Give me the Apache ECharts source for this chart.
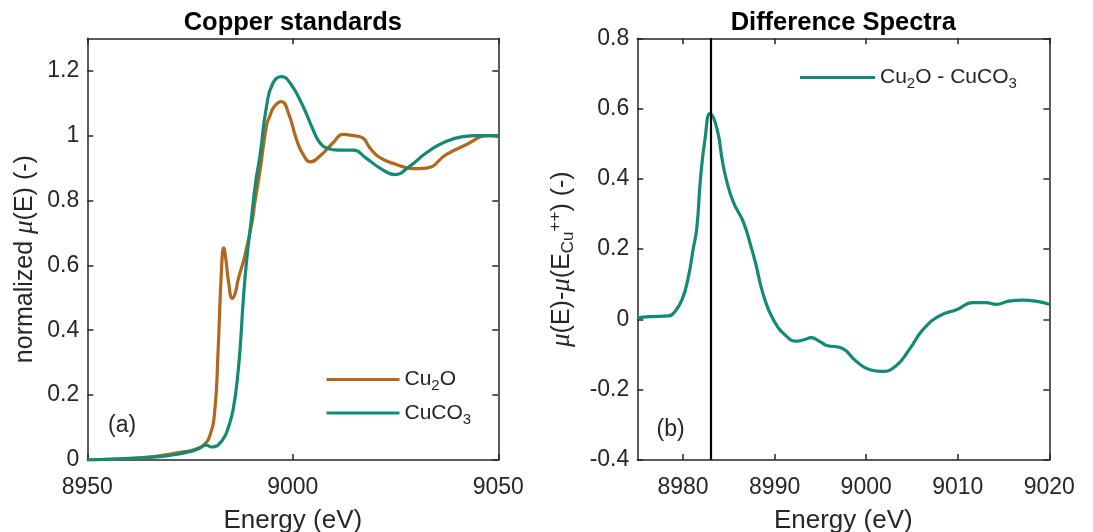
<!DOCTYPE html>
<html>
<head>
<meta charset="utf-8">
<script src="https://cdn.jsdelivr.net/npm/echarts@6/dist/echarts.min.js"></script>
<style>
html,body{margin:0;padding:0;background:#fff;}
#chart{width:1093px;height:532px;}
</style>
</head>
<body>
<div id="chart"></div>
<script>
// ---------------- data ----------------
const cu2oEnergy = [8950, 8955, 8960, 8965, 8968.6, 8972, 8975.7, 8978.2, 8979.8, 8981.0, 8981.8, 8982.65, 8983.2, 8983.7, 8984.3, 8985.3, 8986.0, 8986.7, 8988.3, 8990.2, 8990.75, 8992, 8993.6, 8994.4, 8995.5, 8997.25, 8998.9, 9000.9, 9002.5, 9004.3, 9006.6, 9009.8, 9012.2, 9014.7, 9017.0, 9018.7, 9021.2, 9025.2, 9029.3, 9032.5, 9037.4, 9041.4, 9047.9, 9050];
const cu2oValue = [0, 0.002, 0.005, 0.009, 0.015, 0.022, 0.031, 0.045, 0.075, 0.15, 0.33, 0.587, 0.654, 0.62, 0.556, 0.498, 0.515, 0.556, 0.628, 0.741, 0.793, 0.89, 1.03, 1.06, 1.09, 1.105, 1.071, 0.988, 0.942, 0.919, 0.937, 0.978, 1.004, 1.0, 0.993, 0.963, 0.932, 0.911, 0.898, 0.90, 0.942, 0.967, 1.0, 0.997];

const cuco3Energy = [8950, 8955, 8960, 8965, 8970, 8975.7, 8977.5, 8978.8, 8979.5, 8980.2, 8981.2, 8982.2, 8983.2, 8983.9, 8985.1, 8985.8, 8986.3, 8987.1, 8987.9, 8988.7, 8989.9, 8991, 8992.0, 8993.6, 8995.2, 8997.25, 8999.3, 9002.5, 9004.9, 9006.6, 9008.6, 9011, 9014.7, 9017.9, 9021.2, 9024.8, 9028.5, 9032.5, 9036.6, 9041.4, 9045, 9050];
const cuco3Value = [0, 0.002, 0.004, 0.008, 0.014, 0.028, 0.038, 0.046, 0.044, 0.040, 0.042, 0.051, 0.068, 0.085, 0.134, 0.18, 0.226, 0.33, 0.484, 0.607, 0.741, 0.86, 0.937, 1.09, 1.163, 1.182, 1.163, 1.09, 1.019, 0.978, 0.96, 0.955, 0.955, 0.93, 0.90, 0.88, 0.906, 0.947, 0.978, 0.997, 1.0, 1.0];

const diffEnergy = [8975, 8976.4, 8978.4, 8979.0, 8979.9, 8980.6, 8981.1, 8981.5, 8981.9, 8982.4, 8982.95, 8983.7, 8984.3, 8984.8, 8985.5, 8986.6, 8987.5, 8987.9, 8988.8, 8989.85, 8991.3, 8992.4, 8993.2, 8994.0, 8995.0, 8995.7, 8997.3, 8998.9, 9000.4, 9001.8, 9003.3, 9004.7, 9006.2, 9008.0, 9010.0, 9011.6, 9013.1, 9014.2, 9015.6, 9017.1, 9018.5, 9020];
const diffValue = [0.005, 0.008, 0.01, 0.019, 0.057, 0.124, 0.2, 0.26, 0.4, 0.514, 0.586, 0.543, 0.45, 0.39, 0.333, 0.276, 0.2, 0.162, 0.067, 0.0, -0.048, -0.062, -0.058, -0.052, -0.064, -0.074, -0.081, -0.119, -0.143, -0.148, -0.131, -0.086, -0.029, 0.01, 0.029, 0.048, 0.048, 0.043, 0.052, 0.055, 0.052, 0.043];

const markerEnergy = 8983;

const leftXTicks = [8950, 9000, 9050];
const leftYTicks = [0, 0.2, 0.4, 0.6, 0.8, 1, 1.2];
const rightXTicks = [8980, 8990, 9000, 9010, 9020];
const rightYTicks = [-0.4, -0.2, 0, 0.2, 0.4, 0.6, 0.8];

const seriesNames = ['Cu2O', 'CuCO3', 'Cu2O - CuCO3'];
const legendLabels = {
  'Cu2O': '{t|Cu}{sub|2}{t|O}',
  'CuCO3': '{t|CuCO}{sub|3}',
  'Cu2O - CuCO3': '{t|Cu}{sub|2}{t|O - CuCO}{sub|3}'
};

// ---------------- styles ----------------
const FONT = '"Liberation Sans", Arial, Helvetica, sans-serif';
const AX = '#262626';
const BROWN = '#B3661F';
const TEAL = '#138A73';

function zip(xs, ys) { return xs.map((x, i) => [x, ys[i]]); }
const plainNum = v => String(+v.toFixed(4));

function tick(values) {
  return { show: true, inside: true, length: 6, lineStyle: { color: AX, width: 1.5 }, customValues: values };
}
function label(values, margin) {
  return { show: true, color: AX, fontSize: 23, fontFamily: FONT, margin: margin, customValues: values, formatter: plainNum };
}
function baseAxis(extra) {
  return Object.assign({
    type: 'value',
    splitLine: { show: false },
    axisLine: { show: true, onZero: false, lineStyle: { color: AX, width: 1.5 } }
  }, extra);
}

const nameRich = {
  t: { fontSize: 25, fontFamily: FONT, color: AX, lineHeight: 30 },
  mu: { fontSize: 27, fontFamily: '"Liberation Serif", "DejaVu Serif", serif', fontStyle: 'italic', color: AX, lineHeight: 30 },
  sub: { fontSize: 17, fontFamily: FONT, color: AX, lineHeight: 13, verticalAlign: 'bottom' },
  sup: { fontSize: 17, fontFamily: FONT, color: AX, lineHeight: 13, verticalAlign: 'top' }
};

const legendRich = {
  t: { fontSize: 21, fontFamily: FONT, color: AX, lineHeight: 28 },
  sub: { fontSize: 15, fontFamily: FONT, color: AX, lineHeight: 8, verticalAlign: 'bottom' }
};

const grids = [
  { left: 87.3, top: 38.3, width: 411, height: 421.7, containLabel: false, outerBoundsMode: 'none' },
  { left: 637.3, top: 38.3, width: 412, height: 421.7, containLabel: false, outerBoundsMode: 'none' }
];

const xName = { name: 'Energy (eV)', nameLocation: 'middle', nameGap: 48,
  nameTextStyle: { color: AX, fontFamily: FONT, fontSize: 26 } };
const hidden = { show: false };

const xAxes = [
  baseAxis(Object.assign({ gridIndex: 0, position: 'bottom', min: 8950, max: 9050,
    axisLabel: label(leftXTicks, 16), axisTick: tick(leftXTicks) }, xName)),
  baseAxis({ gridIndex: 0, position: 'top', min: 8950, max: 9050,
    axisLabel: hidden, axisTick: tick(leftXTicks) }),
  baseAxis(Object.assign({ gridIndex: 1, position: 'bottom', min: 8975, max: 9020,
    axisLabel: label(rightXTicks, 16), axisTick: tick(rightXTicks) }, xName)),
  baseAxis({ gridIndex: 1, position: 'top', min: 8975, max: 9020,
    axisLabel: hidden, axisTick: tick(rightXTicks) })
];

const yAxes = [
  baseAxis({ gridIndex: 0, position: 'left', min: 0, max: 1.3,
    axisLabel: label(leftYTicks, 8), axisTick: tick(leftYTicks),
    name: '{t|normalized }{mu|μ}{t|(E) (-)}', nameLocation: 'middle', nameGap: 47,
    nameTextStyle: { rich: nameRich, padding: [0, 20, 0, 0] } }),
  baseAxis({ gridIndex: 0, position: 'right', min: 0, max: 1.3,
    axisLabel: hidden, axisTick: tick(leftYTicks) }),
  baseAxis({ gridIndex: 1, position: 'left', min: -0.4, max: 0.8,
    axisLabel: label(rightYTicks, 8), axisTick: tick(rightYTicks),
    name: '{mu|μ}{t|(E)-}{mu|μ}{t|(E}{sub|Cu}{sup|++}{t|) (-)}', nameLocation: 'middle', nameGap: 60,
    nameTextStyle: { rich: nameRich, padding: [0, 20, 0, 0] } }),
  baseAxis({ gridIndex: 1, position: 'right', min: -0.4, max: 0.8,
    axisLabel: hidden, axisTick: tick(rightYTicks) })
];

const lineCommon = { type: 'line', symbol: 'none', showSymbol: false, smooth: 0.5, z: 3 };

const option = {
  backgroundColor: '#ffffff',
  animation: false,
  title: [
    { text: 'Copper standards', left: 292.8, textAlign: 'center', top: 10, padding: 0,
      textStyle: { fontSize: 25.5, fontWeight: 'bold', color: '#000', fontFamily: FONT } },
    { text: 'Difference Spectra', left: 843.3, textAlign: 'center', top: 10, padding: 0,
      textStyle: { fontSize: 25.5, fontWeight: 'bold', color: '#000', fontFamily: FONT } }
  ],
  grid: grids,
  xAxis: xAxes,
  yAxis: yAxes,
  legend: [
    { data: [seriesNames[0], seriesNames[1]], orient: 'vertical', left: 326.5, top: 369, padding: 0,
      icon: 'rect', itemWidth: 73, itemHeight: 3.2, itemGap: 9,
      formatter: n => legendLabels[n], textStyle: { rich: legendRich } },
    { data: [seriesNames[2]], orient: 'vertical', left: 800, top: 67, padding: 0,
      icon: 'rect', itemWidth: 75, itemHeight: 3.2,
      formatter: n => legendLabels[n], textStyle: { rich: legendRich } }
  ],
  graphic: [
    { type: 'text', left: 108, top: 414, style: { text: '(a)', fontSize: 23, fontFamily: FONT, fill: AX } },
    { type: 'text', left: 656.5, top: 418.5, style: { text: '(b)', fontSize: 23, fontFamily: FONT, fill: AX } }
  ],
  series: [
    Object.assign({}, lineCommon, { name: seriesNames[0], xAxisIndex: 0, yAxisIndex: 0,
      data: zip(cu2oEnergy, cu2oValue), itemStyle: { color: BROWN }, lineStyle: { color: BROWN, width: 3.2 } }),
    Object.assign({}, lineCommon, { name: seriesNames[1], xAxisIndex: 0, yAxisIndex: 0,
      data: zip(cuco3Energy, cuco3Value), itemStyle: { color: TEAL }, lineStyle: { color: TEAL, width: 3.2 } }),
    Object.assign({}, lineCommon, { name: seriesNames[2], xAxisIndex: 2, yAxisIndex: 2,
      data: zip(diffEnergy, diffValue), itemStyle: { color: TEAL }, lineStyle: { color: TEAL, width: 3.2 },
      markLine: { silent: true, symbol: ['none', 'none'], label: { show: false },
        lineStyle: { color: '#000', width: 2.2, type: 'solid' }, emphasis: { disabled: true },
        data: [{ xAxis: markerEnergy }] } })
  ]
};

const chart = echarts.init(document.getElementById('chart'), null, { renderer: 'canvas' });
chart.setOption(option);
</script>
</body>
</html>
